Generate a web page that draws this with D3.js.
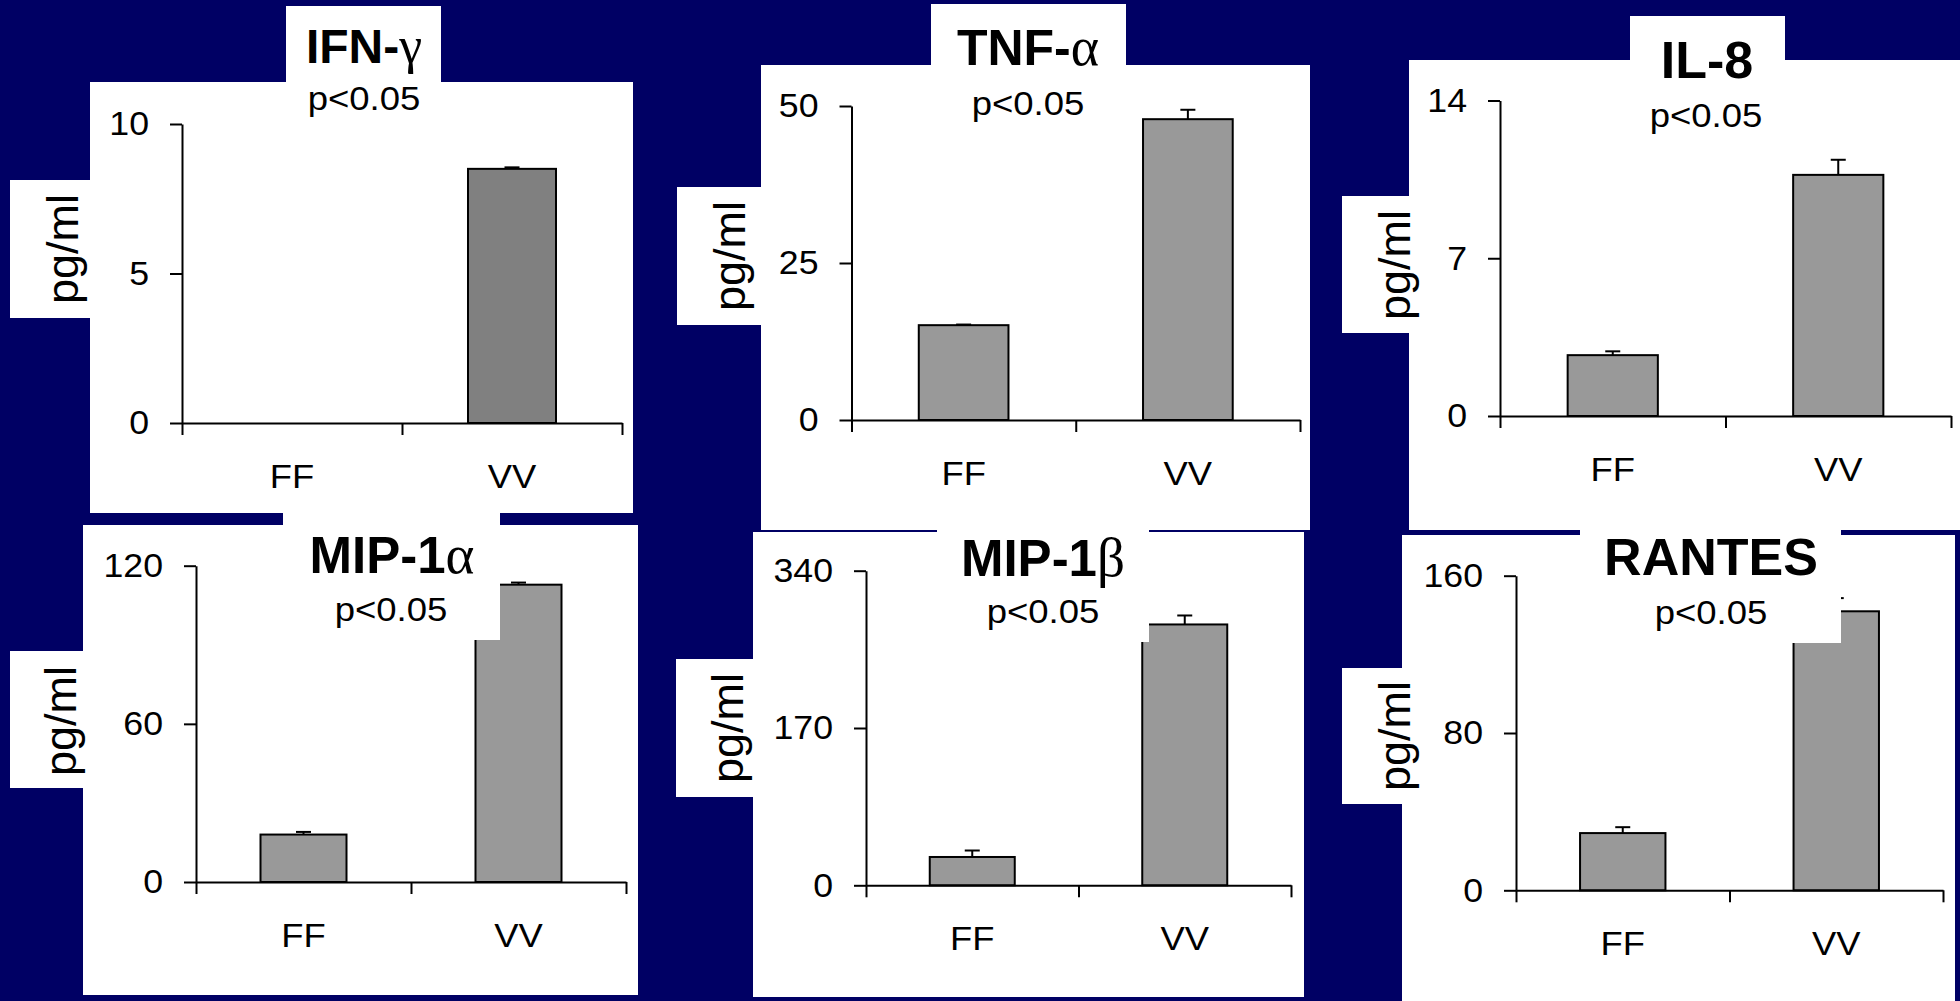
<!DOCTYPE html>
<html>
<head>
<meta charset="utf-8">
<script src="https://cdn.jsdelivr.net/npm/d3@7"></script>
<style>
  html, body { margin: 0; padding: 0; background: #000064; }
  svg { display: block; }
</style>
</head>
<body>
<svg id="chart" width="1960" height="1001"></svg>
<script>
// ---------------- DATA ----------------
const categories = ["FF", "VV"];
const titleMain = ["IFN-", "TNF-", "IL-8", "MIP-1", "MIP-1", "RANTES"];
const titleGreek = ["γ", "α", "", "α", "β", ""];
const ffMeans  = [0,    15.1, 2.7,  18.0, 30.6, 29.1];
const vvMeans  = [8.5,  47.9, 10.7, 112.8, 281.9, 141.9];
const ffErrors = [0,    0.1,  0.17, 1.0,  7.0,  3.0];
const vvErrors = [0.05, 1.5,  0.67, 0.8,  9.7,  6.7];
const yMaxima  = [10, 50, 14, 120, 340, 160];
const yTicks   = [[0, 5, 10], [0, 25, 50], [0, 7, 14], [0, 60, 120], [0, 170, 340], [0, 80, 160]];
const pLabels  = ["p<0.05", "p<0.05", "p<0.05", "p<0.05", "p<0.05", "p<0.05"];
const unitLabel = "pg/ml";

// ---------------- LAYOUT (pixels) ----------------
const layout = [
  { main:[90,82,633,513],   title:[286,6,441,82],    ylab:[10,180,90,318],
    x0:182, x1:622, y0:423, yTop:124, tx:364, ty:63, tSize:48, px:364, py:110, lx:78, ly:249, barFill:"#808080" },
  { main:[761,65,1310,530], title:[931,4,1126,65],   ylab:[677,187,761,325],
    x0:851.5, x1:1300, y0:420, yTop:106, tx:1028, ty:65, tSize:50, px:1028, py:115, lx:745, ly:256, barFill:"#999999" },
  { main:[1409,60,1960,530], title:[1630,16,1785,60], ylab:[1342,196,1409,333],
    x0:1500, x1:1951, y0:416, yTop:100.5, tx:1707, ty:78, tSize:52, px:1706, py:127, lx:1410, ly:265, barFill:"#999999" },
  { main:[83,525,638,995],  title:[283,513,500,640], ylab:[10,651,83,788],
    x0:196, x1:626, y0:882, yTop:565.7, tx:392, ty:573, tSize:51, px:391, py:621, lx:76, ly:721, barFill:"#999999" },
  { main:[753,532,1304,997], title:[937,530,1149,642], ylab:[676,659,753,797],
    x0:866, x1:1291, y0:885.3, yTop:570.7, tx:1043, ty:576, tSize:51, px:1043, py:623, lx:743, ly:728, barFill:"#999999" },
  { main:[1402,535,1955,1001], title:[1580,530,1841,643], ylab:[1342,668,1402,804],
    x0:1516, x1:1943, y0:890.3, yTop:575.7, tx:1711, ty:575, tSize:52, px:1711, py:624, lx:1410, ly:736, barFill:"#999999" }
];

const SANS = "'Liberation Sans', Arial, Helvetica, sans-serif";
const SERIF = "'Liberation Serif', 'Times New Roman', serif";

const svg = d3.select("#chart");
svg.append("rect").attr("x", 0).attr("y", 0).attr("width", 1960).attr("height", 1001).attr("fill", "#000064");

function box(g, b) {
  g.append("rect").attr("x", b[0]).attr("y", b[1]).attr("width", b[2] - b[0]).attr("height", b[3] - b[1]).attr("fill", "#ffffff");
}

layout.forEach((L, i) => {
  const g = svg.append("g");
  box(g, L.main);
  box(g, L.ylab);

  const y = d3.scaleLinear().domain([0, yMaxima[i]]).range([L.y0, L.yTop]);
  const xb = d3.scaleBand().domain(categories).range([L.x0, L.x1]).paddingInner(0.6).paddingOuter(0.3);
  const xl = d3.scaleLinear().domain([0, categories.length]).range([L.x0, L.x1]);

  // bars
  const means = [ffMeans[i], vvMeans[i]];
  const errs = [ffErrors[i], vvErrors[i]];
  const rows = categories.map((c, k) => ({ c, v: means[k], e: errs[k] }));

  const bars = g.append("g");
  rows.filter(d => d.v > 0).forEach(d => {
    const cx = xb(d.c) + xb.bandwidth() / 2;
    bars.append("line").attr("x1", cx).attr("x2", cx).attr("y1", y(d.v)).attr("y2", y(d.v + d.e))
      .attr("stroke", "#000").attr("stroke-width", 2);
    bars.append("line").attr("x1", cx - 7.5).attr("x2", cx + 7.5).attr("y1", y(d.v + d.e)).attr("y2", y(d.v + d.e))
      .attr("stroke", "#000").attr("stroke-width", 2);
    bars.append("rect").attr("x", xb(d.c)).attr("y", y(d.v)).attr("width", xb.bandwidth()).attr("height", y(0) - y(d.v))
      .attr("fill", L.barFill).attr("stroke", "#000").attr("stroke-width", 2);
  });

  // y axis
  const tickStretch = 1.05;
  const ya = g.append("g").attr("transform", `translate(${L.x0},0)`)
    .call(d3.axisLeft(y).tickValues(yTicks[i]).tickSize(12).tickSizeOuter(0).tickFormat(d3.format("d")));
  ya.attr("font-family", null).attr("font-size", null);
  ya.selectAll("path, line").attr("stroke", "#000").attr("stroke-width", 2);
  ya.selectAll("text").attr("fill", "#000").attr("font-family", SANS).attr("font-size", 34)
    .attr("x", -33 / tickStretch).attr("transform", `scale(${tickStretch},1)`);

  // x axis (ticks at category boundaries)
  const xa = g.append("g").attr("transform", `translate(0,${L.y0})`)
    .call(d3.axisBottom(xl).tickValues(d3.range(categories.length + 1)).tickSize(12).tickSizeOuter(0).tickFormat(() => ""));
  xa.attr("font-family", null).attr("font-size", null);
  xa.selectAll("path, line").attr("stroke", "#000").attr("stroke-width", 2);

  // category labels
  categories.forEach(c => {
    g.append("g").attr("transform", `translate(${xb(c) + xb.bandwidth() / 2},${L.y0 + 65}) scale(1.07,1)`)
      .append("text").attr("text-anchor", "middle").attr("font-family", SANS).attr("font-size", 34)
      .attr("fill", "#000").text(c);
  });

  // y label
  g.append("text").attr("transform", `translate(${L.lx},${L.ly}) rotate(-90)`)
    .attr("text-anchor", "middle").attr("font-family", SANS).attr("font-size", 45).attr("fill", "#000")
    .text(unitLabel);

  // title box over the plot
  box(g, L.title);
  const t = g.append("text").attr("x", L.tx).attr("y", L.ty).attr("text-anchor", "middle")
    .attr("font-size", L.tSize).attr("fill", "#000");
  t.append("tspan").attr("font-family", SANS).attr("font-weight", "bold").text(titleMain[i]);
  if (titleGreek[i]) t.append("tspan").attr("font-family", SERIF).attr("font-weight", "normal")
    .attr("font-size", L.tSize * 1.08).text(titleGreek[i]);

  // p-value
  g.append("g").attr("transform", `translate(${L.px},${L.py}) scale(1.09,1)`)
    .append("text").attr("text-anchor", "middle").attr("font-family", SANS).attr("font-size", 33.5)
    .attr("fill", "#000").text(pLabels[i]);
});
</script>
</body>
</html>
